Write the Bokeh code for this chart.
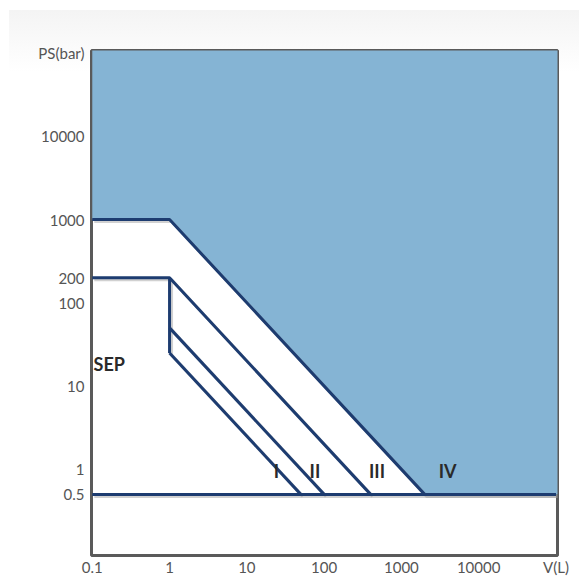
from bokeh.plotting import figure
from bokeh.models import FixedTicker, Range1d
from bokeh.core.properties import value
from bokeh.embed import file_html
from bokeh.resources import INLINE

# ---- data ----
x_ticks = [0.1, 1, 10, 100, 1000, 10000, 100000]
x_tick_labels = ["0.1", "1", "10", "100", "1000", "10000", "V(L)"]
y_ticks = [0.5, 1, 10, 100, 200, 1000, 10000, 100000]
y_tick_labels = ["0.5", "1", "10", "100", "200", "1000", "10000", "PS(bar)"]

# category IV boundary (blue region above it)
iv_x = [0.1, 1, 2000, 100000]
iv_y = [1000, 1000, 0.5, 0.5]
# lower limit line
base_x = [0.1, 100000]
base_y = [0.5, 0.5]
# category III boundary
iii_x = [0.1, 1, 400]
iii_y = [200, 200, 0.5]
# vertical at V = 1
vert_x = [1, 1]
vert_y = [200, 25]
# category II boundary
ii_x = [1, 100]
ii_y = [50, 0.5]
# category I boundary
i_x = [1, 50]
i_y = [25, 0.5]

lab_text = ["I", "II", "III", "IV"]
lab_x = [24.2, 76, 484, 3965]
lab_y = [0.95, 0.95, 0.95, 0.95]
sep_text = ["SEP"]
sep_x = [0.104]
sep_y = [18.2]

FONT = "Lato"
BLUE = "#85B4D4"
NAVY = "#1D3C70"

XMIN, XMAX = 10 ** -1.01, 10 ** 5.02
YMIN, YMAX = 10 ** -1.035, 10 ** 5.03

p = figure(width=579, height=579, x_axis_type="log", y_axis_type="log",
           x_range=Range1d(XMIN, XMAX), y_range=Range1d(YMIN, YMAX),
           output_backend="svg", toolbar_location=None,
           min_border_left=91, min_border_right=22,
           min_border_top=50, min_border_bottom=24)
p.background_fill_color = "white"
p.border_fill_color = None
p.styles = {
    "background": "linear-gradient(#f4f4f4, #ffffff) 9px 10px / 570px 62px no-repeat, #ffffff",
}
p.outline_line_color = "#5a5a5a"
p.outline_line_width = 3
p.xgrid.visible = False
p.ygrid.visible = False

# blue region above the category IV boundary
fill_x = [iv_x[0]] + iv_x + [XMAX * 2, XMAX * 2]
fill_y = [YMAX * 2] + iv_y + [iv_y[-1], YMAX * 2]
p.patch(fill_x, fill_y, fill_color=BLUE, line_color=None)

lines = [(iv_x, iv_y), (base_x, base_y), (iii_x, iii_y),
         (vert_x, vert_y), (ii_x, ii_y), (i_x, i_y)]

# soft shadows (offset ~2px right/down)
sx = 10 ** (2 / 77.2)
sy = 10 ** (-2 / 83.3)
for xs, ys in lines:
    p.line([v * sx for v in xs], [v * sy for v in ys],
           line_color="#9a9a9a", line_width=3, line_alpha=0.45)

for xs, ys in lines:
    p.line(xs, ys, line_color=NAVY, line_width=3)

p.text(lab_x, lab_y, text=lab_text, text_font=value(FONT),
       text_font_style="bold", text_font_size="18px", text_color="#2a2a2a",
       text_align="center", text_baseline="middle")
p.text(sep_x, sep_y, text=sep_text, text_font=value(FONT),
       text_font_style="bold", text_font_size="18px", text_color="#2a2a2a",
       text_align="left", text_baseline="middle")

for ax, ticks, labels in [(p.xaxis[0], x_ticks, x_tick_labels),
                          (p.yaxis[0], y_ticks, y_tick_labels)]:
    ax.ticker = FixedTicker(ticks=ticks, minor_ticks=[])
    ax.major_label_overrides = {t: l for t, l in zip(ticks, labels)}
    ax.axis_line_color = None
    ax.major_tick_line_color = None
    ax.minor_tick_line_color = None
    ax.major_tick_out = 0
    ax.major_tick_in = 0
    ax.major_label_text_font = FONT
    ax.major_label_text_font_size = "15px"
    ax.major_label_text_color = "#555555"

p.xaxis.major_label_standoff = 2
p.yaxis.major_label_standoff = 7

open("out.html", "w").write(file_html(p, INLINE))
